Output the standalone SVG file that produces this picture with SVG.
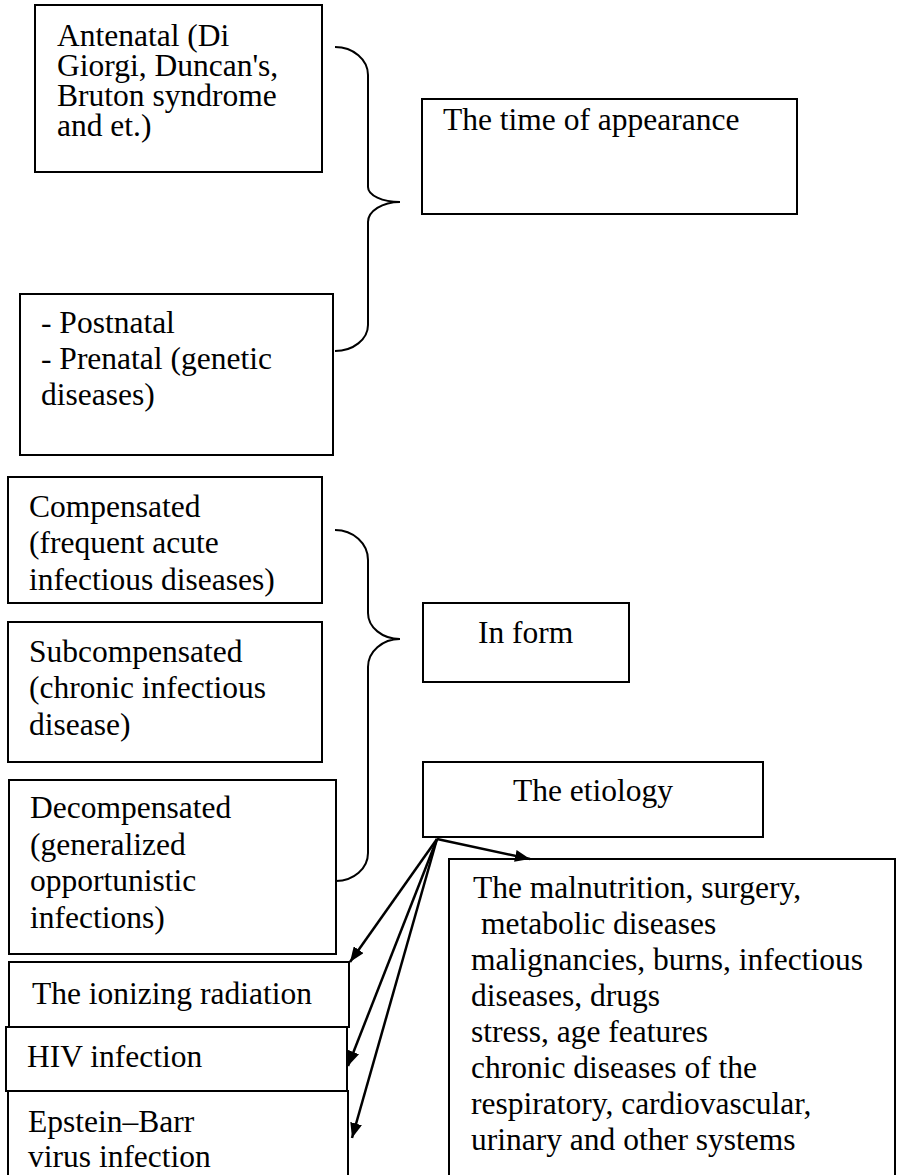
<svg xmlns="http://www.w3.org/2000/svg" width="903" height="1175" viewBox="0 0 903 1175">
<style>
.box{fill:#fff;stroke:#000;stroke-width:2}
.t{font-family:"Liberation Serif","Times New Roman",serif;font-size:31.5px;fill:#000}
.brace{fill:none;stroke:#000;stroke-width:2}
.arr{fill:none;stroke:#000;stroke-width:2.5;marker-end:url(#ah)}
</style>
<defs>
<marker id="ah" markerUnits="userSpaceOnUse" markerWidth="16" markerHeight="12" refX="15" refY="6" orient="auto">
<path d="M0,0 L15,6 L0,12 z" fill="#000"/>
</marker>
</defs>
<rect width="903" height="1175" fill="#fff"/>
<g id="n-antenatal"><rect class="box" x="35" y="5" width="287" height="167"/>
<text class="t" x="57" y="46">Antenatal (Di</text>
<text class="t" x="57" y="76">Giorgi, Duncan's,</text>
<text class="t" x="57" y="106">Bruton syndrome</text>
<text class="t" x="57" y="136">and et.)</text></g>
<g id="n-time"><rect class="box" x="422" y="99" width="375" height="115"/>
<text class="t" x="443" y="130">The time of appearance</text></g>
<g id="n-postnatal"><rect class="box" x="20" y="294" width="313" height="161"/>
<text class="t" x="41" y="333">- Postnatal</text>
<text class="t" x="41" y="369">- Prenatal (genetic</text>
<text class="t" x="41" y="405">diseases)</text></g>
<g id="n-compensated"><rect class="box" x="8" y="477" width="314" height="126"/>
<text class="t" x="29" y="517">Compensated</text>
<text class="t" x="29" y="553">(frequent acute</text>
<text class="t" x="29" y="590">infectious diseases)</text></g>
<g id="n-subcompensated"><rect class="box" x="8" y="622" width="314" height="140"/>
<text class="t" x="29" y="662">Subcompensated</text>
<text class="t" x="29" y="698">(chronic infectious</text>
<text class="t" x="29" y="735">disease)</text></g>
<g id="n-decompensated"><rect class="box" x="9" y="780" width="327" height="174"/>
<text class="t" x="30" y="818">Decompensated</text>
<text class="t" x="30" y="855">(generalized</text>
<text class="t" x="30" y="891">opportunistic</text>
<text class="t" x="30" y="928">infections)</text></g>
<g id="n-inform"><rect class="box" x="423" y="603" width="206" height="79"/>
<text class="t" x="478" y="643">In form</text></g>
<g id="n-etiology"><rect class="box" x="423" y="762" width="340" height="75"/>
<text class="t" x="513" y="801">The etiology</text></g>
<g id="n-causes"><rect class="box" x="449" y="859" width="446" height="330"/>
<text class="t" x="473" y="898">The malnutrition, surgery,</text>
<text class="t" x="481" y="934">metabolic diseases</text>
<text class="t" x="471" y="970">malignancies, burns, infectious</text>
<text class="t" x="471" y="1006">diseases, drugs</text>
<text class="t" x="471" y="1042">stress, age features</text>
<text class="t" x="471" y="1078">chronic diseases of the</text>
<text class="t" x="471" y="1114">respiratory, cardiovascular,</text>
<text class="t" x="471" y="1150">urinary and other systems</text></g>
<g id="n-ionizing"><rect class="box" x="9" y="962" width="340" height="65"/>
<text class="t" x="32" y="1004">The ionizing radiation</text></g>
<g id="n-hiv"><rect class="box" x="6" y="1027" width="341" height="64"/>
<text class="t" x="27" y="1067">HIV infection</text></g>
<g id="n-ebv"><rect class="box" x="8" y="1091" width="340" height="100"/>
<text class="t" x="28" y="1132">Epstein–Barr</text>
<text class="t" x="28" y="1167">virus infection</text></g>
<g id="connectors">
<path class="brace" d="M335,47 A33,28 0 0 1 368,75 L368,187 A32,15 0 0 0 400,202 A32,20 0 0 0 368,222 L368,325 A33,26 0 0 1 335,351"/>
<path class="brace" d="M335,530 A33,30 0 0 1 368,560 L368,613 A32,26 0 0 0 400,639 A32,28 0 0 0 368,667 L368,853 A32,28 0 0 1 336,881"/>
<line class="arr" x1="437" y1="839" x2="530" y2="859"/>
<line class="arr" x1="437" y1="839" x2="350" y2="962"/>
<line class="arr" x1="437" y1="839" x2="348" y2="1066"/>
<line class="arr" x1="437" y1="839" x2="352" y2="1138"/>
</g>
</svg>
